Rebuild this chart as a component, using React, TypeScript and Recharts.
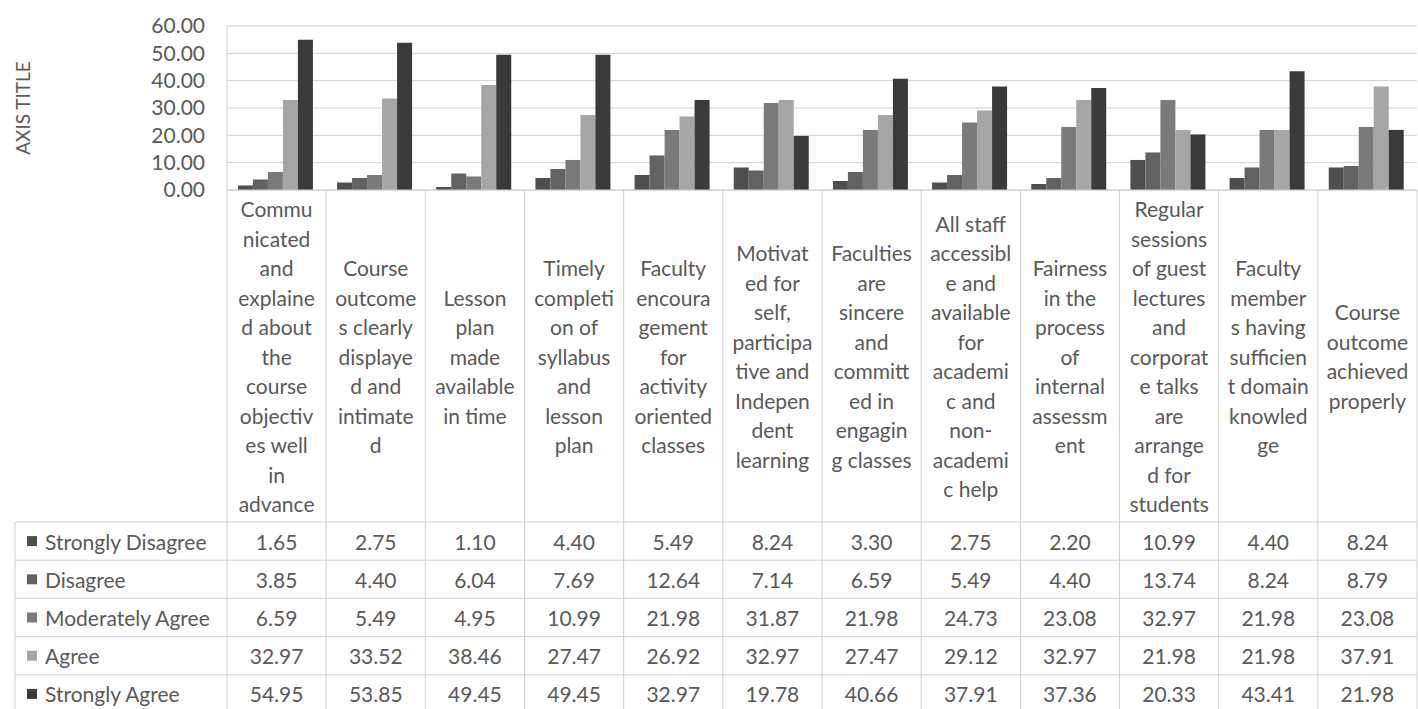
import { Bar, BarChart, CartesianGrid, XAxis, YAxis } from "recharts"

const categories = [
  "Communicated and explained about the course objectives well in advance",
  "Course outcomes clearly displayed and intimated",
  "Lesson plan made available in time",
  "Timely completion of syllabus and lesson plan",
  "Faculty encouragement for activity oriented classes",
  "Motivated for self, participative and Independent learning",
  "Faculties are sincere and committed in engaging classes",
  "All staff accessible and available for academic and non-academic help",
  "Fairness in the process of internal assessment",
  "Regular sessions of guest lectures and corporate talks are arranged for students",
  "Faculty members having sufficient domain knowledge",
  "Course outcome achieved properly",
]

// label lines as they wrap in the table header
const tickLines = [
  ["Commu", "nicated", "and", "explaine", "d about", "the", "course", "objectiv", "es well", "in", "advance"],
  ["Course", "outcome", "s clearly", "displaye", "d and", "intimate", "d"],
  ["Lesson", "plan", "made", "available", "in time"],
  ["Timely", "completi", "on of", "syllabus", "and", "lesson", "plan"],
  ["Faculty", "encoura", "gement", "for", "activity", "oriented", "classes"],
  ["Motivat", "ed for", "self,", "participa", "tive and", "Indepen", "dent", "learning"],
  ["Faculties", "are", "sincere", "and", "committ", "ed in", "engagin", "g classes"],
  ["All staff", "accessibl", "e and", "available", "for", "academi", "c and", "non-", "academi", "c help"],
  ["Fairness", "in the", "process", "of", "internal", "assessm", "ent"],
  ["Regular", "sessions", "of guest", "lectures", "and", "corporat", "e talks", "are", "arrange", "d for", "students"],
  ["Faculty", "member", "s having", "sufficien", "t domain", "knowled", "ge"],
  ["Course", "outcome", "achieved", "properly"],
]

const stronglyDisagree = [1.65, 2.75, 1.1, 4.4, 5.49, 8.24, 3.3, 2.75, 2.2, 10.99, 4.4, 8.24]
const disagree = [3.85, 4.4, 6.04, 7.69, 12.64, 7.14, 6.59, 5.49, 4.4, 13.74, 8.24, 8.79]
const moderatelyAgree = [6.59, 5.49, 4.95, 10.99, 21.98, 31.87, 21.98, 24.73, 23.08, 32.97, 21.98, 23.08]
const agree = [32.97, 33.52, 38.46, 27.47, 26.92, 32.97, 27.47, 29.12, 32.97, 21.98, 21.98, 37.91]
const stronglyAgree = [54.95, 53.85, 49.45, 49.45, 32.97, 19.78, 40.66, 37.91, 37.36, 20.33, 43.41, 21.98]

const yTicks = [0, 10, 20, 30, 40, 50, 60]

const series = [
  { key: "sd", name: "Strongly Disagree", values: stronglyDisagree, color: "#4e4e4e" },
  { key: "d", name: "Disagree", values: disagree, color: "#626262" },
  { key: "ma", name: "Moderately Agree", values: moderatelyAgree, color: "#7a7a7a" },
  { key: "a", name: "Agree", values: agree, color: "#a6a6a6" },
  { key: "sa", name: "Strongly Agree", values: stronglyAgree, color: "#3a3a3a" },
]

const data = categories.map((category, i) => {
  const row: Record<string, string | number> = { category }
  series.forEach((s) => (row[s.key] = s.values[i]))
  return row
})

const W = 1418
const H = 709
const PLOT_LEFT = 227
const PLOT_RIGHT = 1417
const PLOT_TOP = 26
const PLOT_BOTTOM = 190
const HEADER_BOTTOM = 522
const ROW_H = 38.2
const TABLE_LEFT = 15
const LINE_H = 29.5
const COL_W = (PLOT_RIGHT - PLOT_LEFT) / categories.length
const FONT = "Lato, 'Open Sans', sans-serif"
const TEXT = "#595959"
const BORDER = "#d0d0d0"
const FS = 21

function TableColumn(props: any) {
  const { x, payload } = props
  const i = payload.index
  const lines = tickLines[i]
  const mid = (PLOT_BOTTOM + HEADER_BOTTOM) / 2
  const first = mid - ((lines.length - 1) * LINE_H) / 2
  const left = x - COL_W / 2
  return (
    <g>
      <line x1={left} x2={left} y1={PLOT_BOTTOM} y2={H} stroke={BORDER} />
      {i === categories.length - 1 && (
        <line x1={left + COL_W} x2={left + COL_W} y1={PLOT_BOTTOM} y2={H} stroke={BORDER} />
      )}
      <text textAnchor="middle" fontSize={FS} fill={TEXT} fontFamily={FONT}>
        {lines.map((l, k) => (
          <tspan key={k} x={x} y={first + k * LINE_H} dominantBaseline="central">
            {l}
          </tspan>
        ))}
      </text>
      {series.map((s, r) => (
        <text
          key={s.key}
          x={x}
          y={HEADER_BOTTOM + ROW_H * (r + 0.5)}
          textAnchor="middle"
          dominantBaseline="central"
          fontSize={FS}
          fill={TEXT}
          fontFamily={FONT}
        >
          {s.values[i].toFixed(2)}
        </text>
      ))}
    </g>
  )
}

export default function App() {
  return (
    <div style={{ position: "absolute", left: 0, top: 0, width: W, height: H, background: "#fff" }}>
      <BarChart
        width={W}
        height={H}
        data={data}
        margin={{ top: PLOT_TOP, right: W - PLOT_RIGHT, left: 0, bottom: 0 }}
        barCategoryGap="11%"
        barGap={0}
        style={{ fontFamily: FONT }}
      >
        <CartesianGrid vertical={false} stroke={BORDER} />
        <YAxis
          width={PLOT_LEFT}
          domain={[0, 60]}
          ticks={yTicks}
          interval={0}
          tickFormatter={(v: number) => v.toFixed(2)}
          tickLine={false}
          tickMargin={16}
          axisLine={{ stroke: BORDER }}
          tick={{ fontSize: FS, fill: TEXT, fontFamily: FONT }}
        />
        <XAxis
          dataKey="category"
          height={H - PLOT_BOTTOM}
          tickLine={false}
          axisLine={{ stroke: BORDER }}
          interval={0}
          tick={<TableColumn />}
        />
        {series.map((s) => (
          <Bar key={s.key} dataKey={s.key} name={s.name} fill={s.color} isAnimationActive={false} />
        ))}
      </BarChart>
      <svg
        width={W}
        height={H}
        style={{ position: "absolute", left: 0, top: 0, pointerEvents: "none", fontFamily: FONT }}
      >
        <text
          transform="translate(22,108) rotate(-90)"
          textAnchor="middle"
          dominantBaseline="central"
          fontSize={19}
          fill={TEXT}
        >
          AXIS TITLE
        </text>
        <line x1={TABLE_LEFT} x2={TABLE_LEFT} y1={HEADER_BOTTOM} y2={H} stroke={BORDER} />
        {series.map((s, r) => {
          const top = HEADER_BOTTOM + ROW_H * r
          const cy = top + ROW_H / 2
          return (
            <g key={s.key}>
              <line x1={TABLE_LEFT} x2={PLOT_RIGHT} y1={top} y2={top} stroke={BORDER} />
              <rect x={27} y={cy - 5} width={10} height={10} fill={s.color} />
              <text x={45} y={cy} dominantBaseline="central" fontSize={FS} fill={TEXT}>
                {s.name}
              </text>
            </g>
          )
        })}
      </svg>
    </div>
  )
}
